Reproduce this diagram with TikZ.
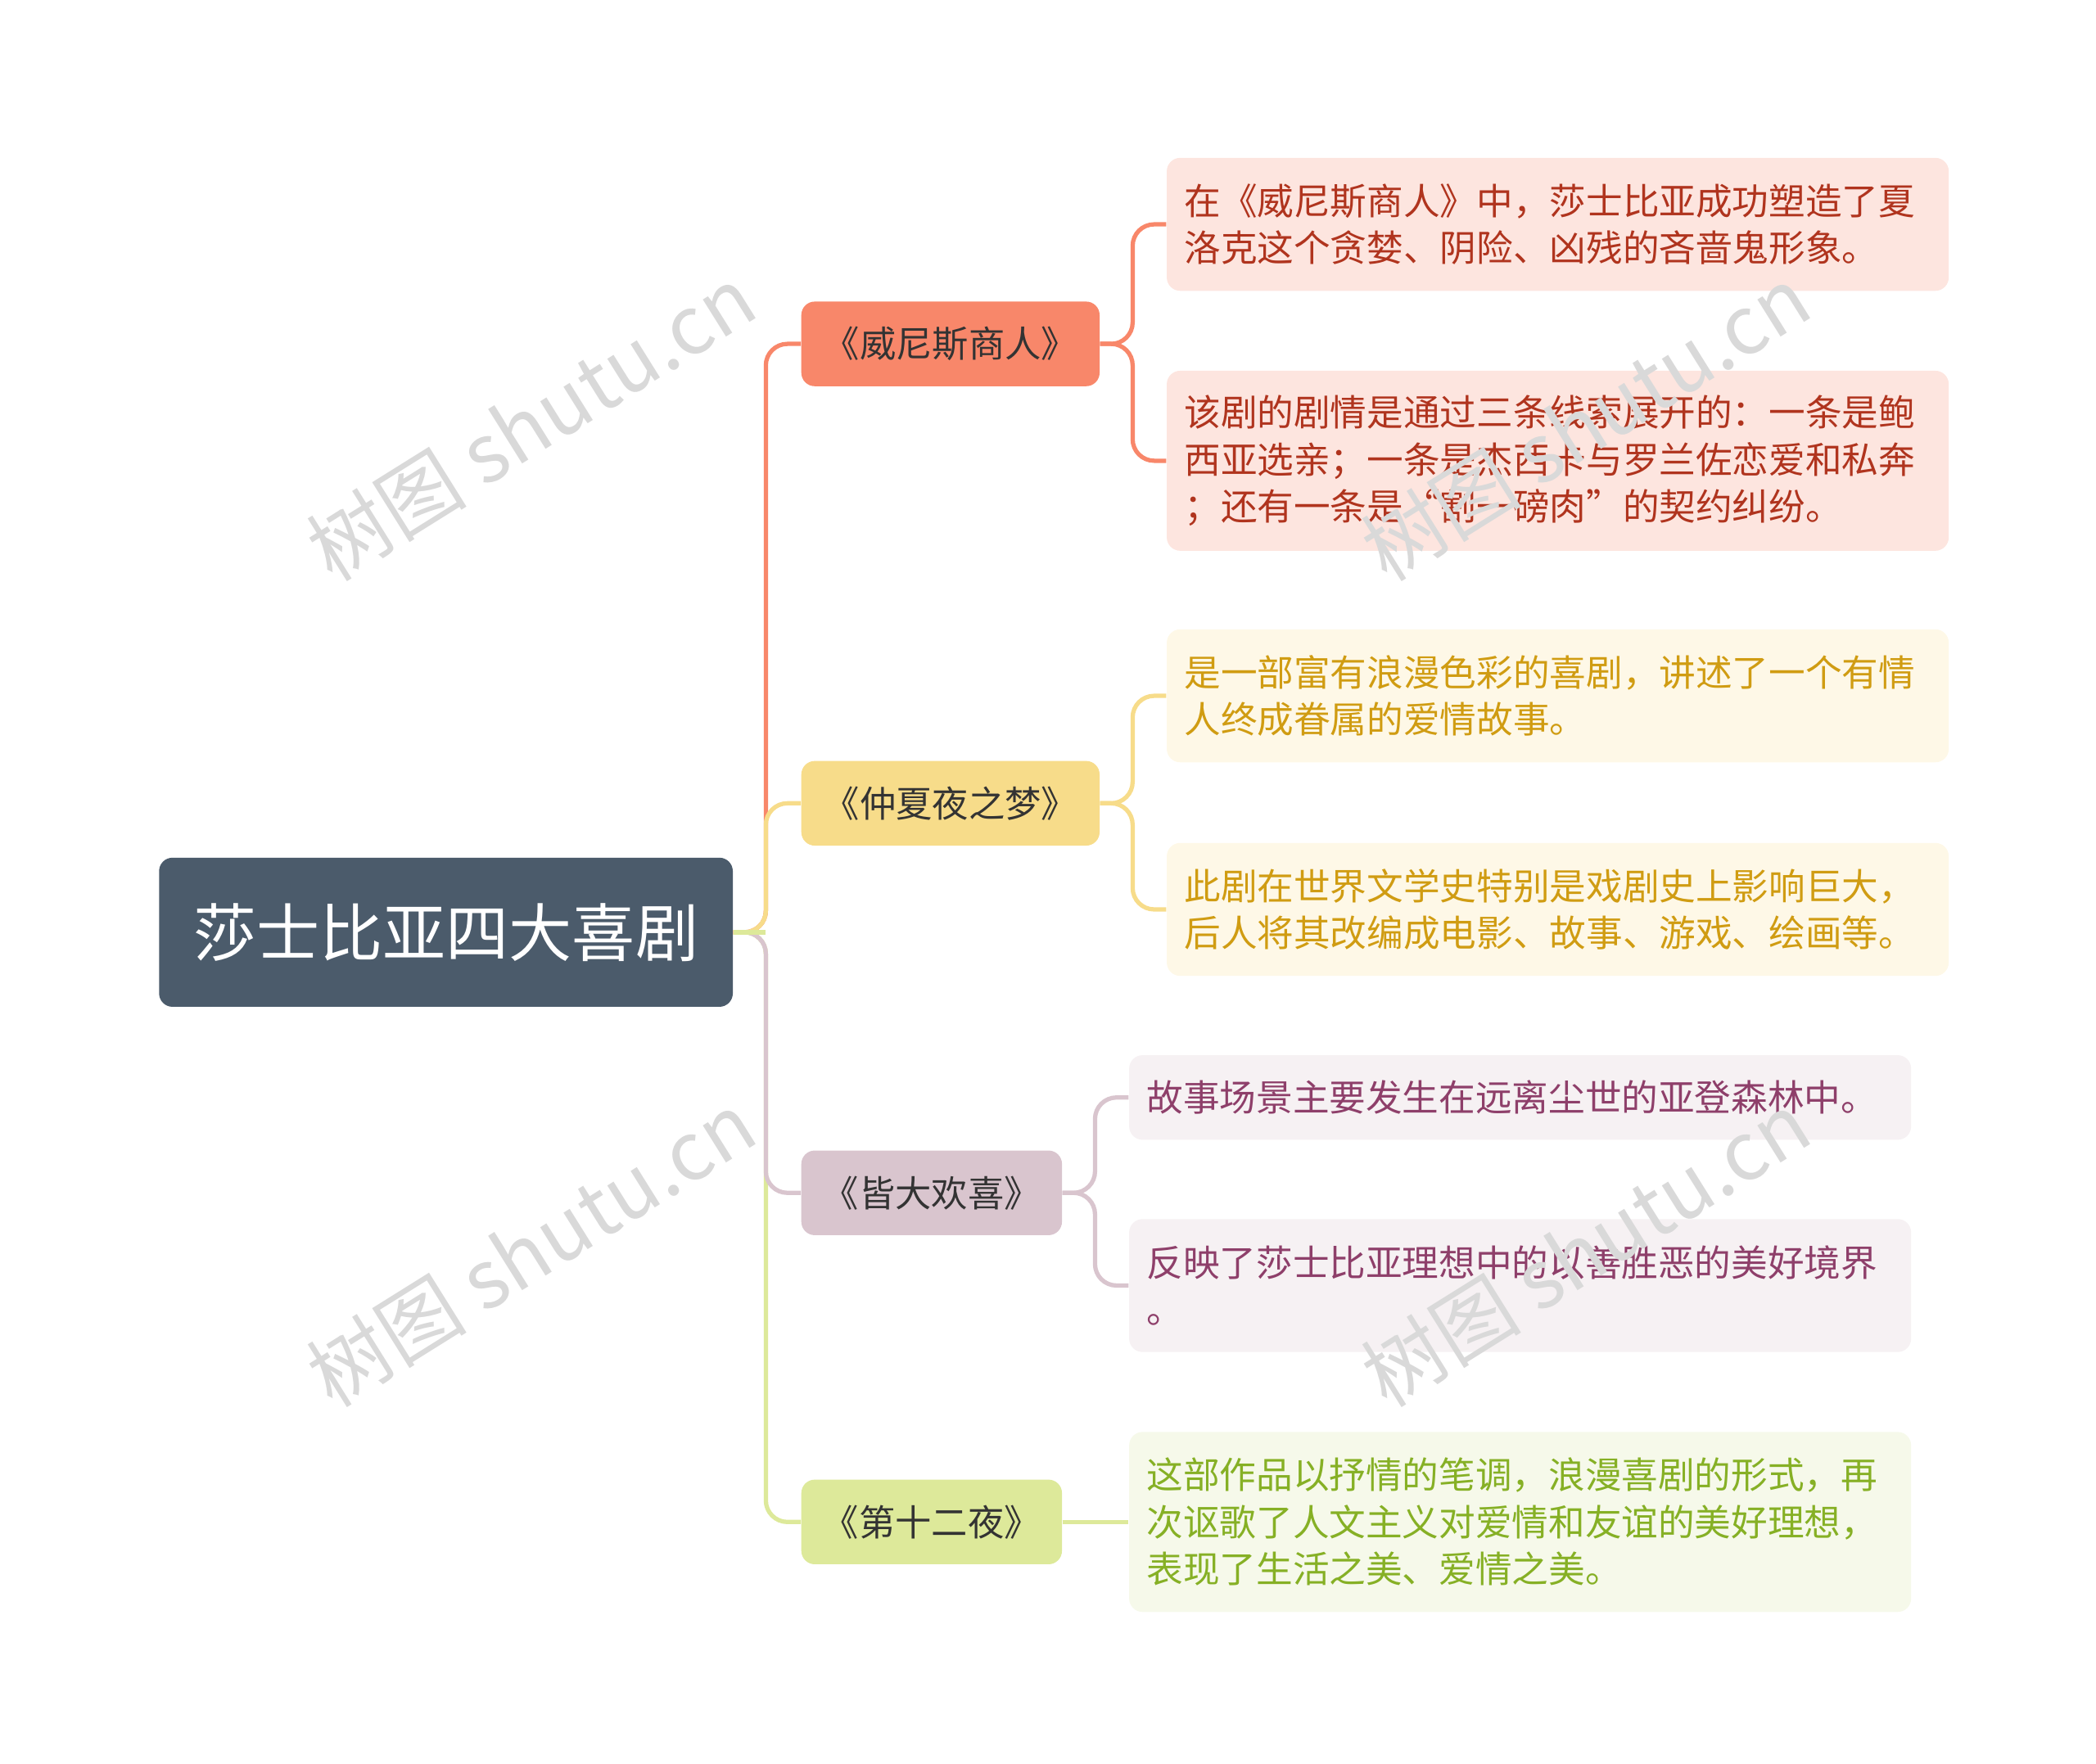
\documentclass[tikz,border=0pt]{standalone}
\usepackage{fontspec}
\setmainfont{Noto Sans CJK SC}
\definecolor{rootc}{HTML}{4B5B6B}
\definecolor{oc}{HTML}{F8876A}\definecolor{ofill}{HTML}{FDE5DF}\definecolor{otxt}{HTML}{B0341E}
\definecolor{yc}{HTML}{F7DC8A}\definecolor{yfill}{HTML}{FEF8E7}\definecolor{ytxt}{HTML}{D09C12}
\definecolor{pc}{HTML}{D9C5CE}\definecolor{pfill}{HTML}{F6F1F3}\definecolor{ptxt}{HTML}{8E3F6A}
\definecolor{gc}{HTML}{DDE99A}\definecolor{gfill}{HTML}{F6F9EA}\definecolor{gtxt}{HTML}{86B025}
\begin{document}
\begin{tikzpicture}[x=0.5pt,y=-0.5pt,
 rootbox/.style={fill=rootc,rounded corners=5pt,text=white,font=\fontsize{23.5}{28}\selectfont,minimum width=213.5pt,minimum height=55.5pt,anchor=west},
 branch/.style={rounded corners=5pt,font=\fontsize{13.5}{17}\selectfont,text=black!80,minimum height=31.5pt,anchor=west},
 leaf/.style={rounded corners=5pt,font=\fontsize{13.6}{17.5}\selectfont,text width=278pt,align=left,inner xsep=6.5pt,anchor=west},
 conn/.style={line width=1.6pt,rounded corners=8pt},
 wm/.style={text=black!15,font=\fontsize{30}{30}\selectfont,rotate=32}]
\path[use as bounding box] (0,0) rectangle (1560,1313);
\node[rootbox] (root) at (118,694) {莎士比亚四大喜剧};
\node[branch,fill=oc,minimum width=111pt] (b1) at (596,256) {《威尼斯商人》};
\node[branch,fill=yc,minimum width=111pt] (b2) at (596,598) {《仲夏夜之梦》};
\node[branch,fill=pc,minimum width=97pt] (b3) at (596,888) {《皆大欢喜》};
\node[branch,fill=gc,minimum width=97pt] (b4) at (596,1133) {《第十二夜》};
\node[leaf,fill=ofill,text=otxt,minimum height=49.5pt] (l1) at (868,167) {在《威尼斯商人》中，莎士比亚成功塑造了夏\\洛克这个贪婪、阴险、凶残的吝啬鬼形象。};
\node[leaf,fill=ofill,text=otxt,minimum height=67pt] (l2) at (868,343) {该剧的剧情是通过三条线索展开的：一条是鲍\\西亚选亲；一条是杰西卡与罗兰佐恋爱和私奔\\；还有一条是“割一磅肉”的契约纠纷。};
\node[leaf,fill=yfill,text=ytxt,minimum height=49.5pt] (l3) at (868,518) {是一部富有浪漫色彩的喜剧，讲述了一个有情\\人终成眷属的爱情故事。};
\node[leaf,fill=yfill,text=ytxt,minimum height=49.5pt] (l4) at (868,677) {此剧在世界文学史特别是戏剧史上影响巨大，\\后人将其改编成电影、故事、游戏、绘画等。};
\node[leaf,fill=pfill,text=ptxt,minimum height=31.5pt] (l5) at (840,817) {故事场景主要发生在远离尘世的亚登森林中。};
\node[leaf,fill=pfill,text=ptxt,minimum height=49.5pt] (l6) at (840,957) {反映了莎士比亚理想中的以善胜恶的美好境界\\。};
\node[leaf,fill=gfill,text=gtxt,minimum height=67pt] (l7) at (840,1133) {这部作品以抒情的笔调，浪漫喜剧的形式，再\\次讴歌了人文主义对爱情和友谊的美好理想，\\表现了生活之美、爱情之美。};
\draw[conn,gc] (root.east) -- (570,694) |- (b4.west);
\draw[conn,pc] (root.east) -- (570,694) |- (b3.west);
\draw[conn,oc] (root.east) -- (570,694) |- (b1.west);
\draw[conn,yc] (root.east) -- (570,694) |- (b2.west);
\draw[conn,gc] (root.east) -- (570,694);
\draw[conn,oc] (b1.east) -- (843,256) |- (l1.west);
\draw[conn,oc] (b1.east) -- (843,256) |- (l2.west);
\draw[conn,yc] (b2.east) -- (843,598) |- (l3.west);
\draw[conn,yc] (b2.east) -- (843,598) |- (l4.west);
\draw[conn,pc] (b3.east) -- (815,888) |- (l5.west);
\draw[conn,pc] (b3.east) -- (815,888) |- (l6.west);
\draw[conn,gc] (b4.east) -- (l7.west);
\node[wm] (w1) at (395,315) {树图 shutu.cn};
\node[wm] (w2) at (1180,315) {树图 shutu.cn};
\node[wm] (w3) at (395,930) {树图 shutu.cn};
\node[wm] (w4) at (1180,930) {树图 shutu.cn};
\end{tikzpicture}
\end{document}
